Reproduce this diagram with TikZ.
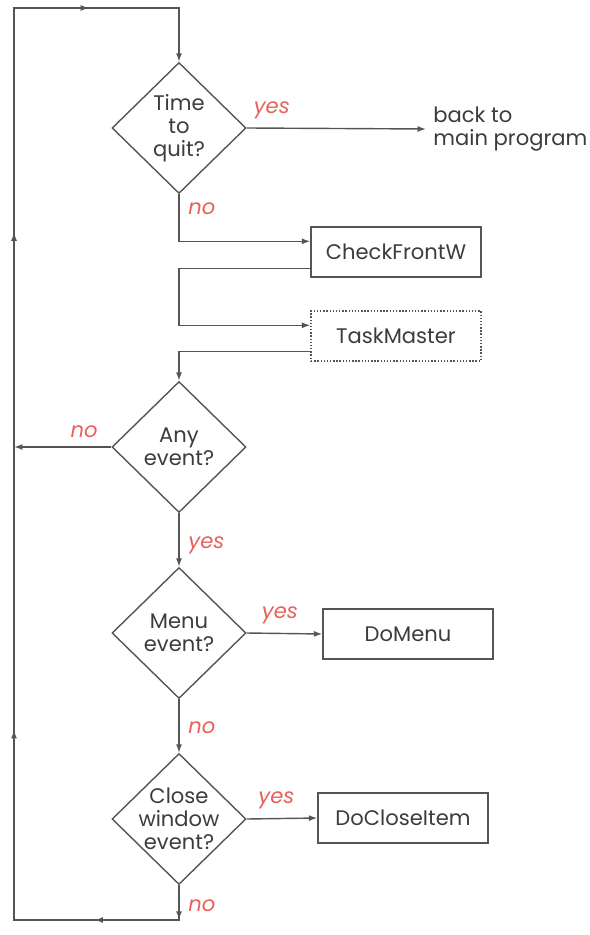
\documentclass[tikz,border=0pt]{standalone}
\usepackage{fontspec}
\setmainfont{Poppins}
\usepackage{tikz}
\usetikzlibrary{shapes.geometric,arrows.meta,decorations.markings}
\definecolor{linegray}{RGB}{85,85,85}
\definecolor{textgray}{RGB}{60,60,60}
\definecolor{answred}{RGB}{232,96,90}

\begin{document}
\begin{tikzpicture}[x=0.02cm, y=-0.02cm,
                every node/.style={font=\fontsize{12}{13}\selectfont, text=textgray},
                flow/.style={draw=linegray, line width=0.8pt, -{Latex[length=1.7mm,width=1.2mm]}},
                decision/.style={diamond, draw=linegray, line width=0.8pt, inner sep=0pt,
                        minimum width=2.68cm, minimum height=2.62cm},
                dtext/.style={align=center, inner sep=0pt},
                process/.style={rectangle, draw=linegray, line width=0.8pt,
                        minimum width=3.4cm, minimum height=1cm},
                answer/.style={font=\fontsize{12}{13}\selectfont\itshape, text=answred, inner sep=5pt},
                loopback/.style={color=linegray, line width=0.8pt, -{Latex[length=1.7mm,width=1.2mm]},
                        postaction=decorate, decoration={markings,
                        mark=at position 0.026 with {\arrow{Latex[length=1.7mm,width=1.2mm]}},
                        mark=at position 0.0897 with {\arrow{Latex[length=1.7mm,width=1.2mm]}},
                        mark=at position 0.293 with {\arrow{Latex[length=1.7mm,width=1.2mm]}},
                        mark=at position 0.667 with {\arrow{Latex[length=1.7mm,width=1.2mm]}},
                        mark=at position 0.892 with {\arrow{Latex[length=1.7mm,width=1.2mm]}}}}]
                \useasboundingbox (0,0) rectangle (590,935);

                \node[decision, label={[dtext]center:{Time\\to\\quit?}}] (quit) at (179,128) {};
                \node[decision, label={[dtext]center:{Any\\event?}}] (any) at (179,447) {};
                \node[decision, label={[dtext]center:{Menu\\event?}}] (menu) at (179,633) {};
                \node[decision, label={[dtext]center:{Close\\window\\event?}}] (close) at (179,819) {};

                \node[align=left, anchor=west, inner sep=4pt] (back) at (426,129) {back to\\main program};
                \node[process] (check) at (396,252) {CheckFrontW};
                \node[process, densely dotted] (task) at (396,336) {TaskMaster};
                \node[process] (domenu) at (408,634) {DoMenu};
                \node[process] (doclose) at (403,818) {DoCloseItem};

                \coordinate (bl) at (14,920);
                \coordinate (tl) at (14,8);
                \coordinate (checkin) at ([yshift=-0.3cm]check.north west);
                \coordinate (checkout) at ([yshift=0.18cm]check.south west);
                \coordinate (taskin) at ([yshift=-0.3cm]task.north west);
                \coordinate (taskout) at ([yshift=0.2cm]task.south west);

                \draw[flow] (quit.east) -- node[answer, above, pos=0.14]{yes} (back.west);
                \draw[flow] (quit.south) |- node[answer, right, pos=0.15]{no} (checkin);
                \draw[flow] (checkout) -| (quit.south |- taskin) -- (taskin);
                \draw[flow] (taskout) -| (any.north);
                \draw[flow] (any.west) -- node[answer, above, pos=0.28]{no} (any.west -| bl);
                \draw[flow] (any.south) -- node[answer, right, pos=0.6]{yes} (menu.north);
                \draw[flow] (menu.east) -- node[answer, above, pos=0.44]{yes} (domenu.west);
                \draw[flow] (menu.south) -- node[answer, right, pos=0.53]{no} (close.north);
                \draw[flow] (close.east) -- node[answer, above, pos=0.42]{yes} (doclose.west);

                \draw[loopback] (close.south) -- node[answer, right, pos=0.6]{no} (close.south |- bl)
                        -- (bl) -- (tl) -- (tl -| quit.north) -- (quit.north);
            \end{tikzpicture}
\end{document}
